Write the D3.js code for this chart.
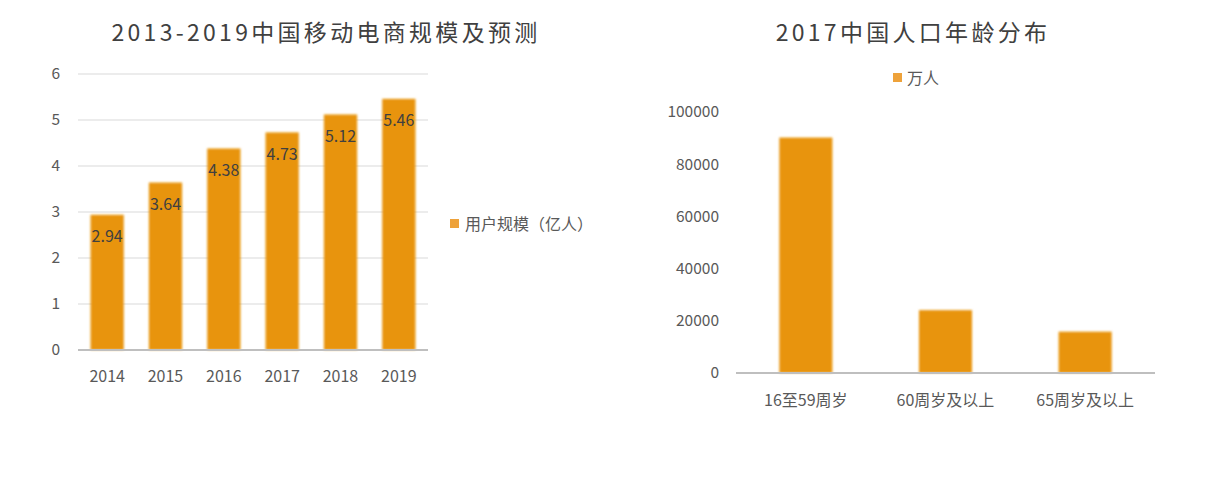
<!DOCTYPE html>
<html><head><meta charset="utf-8">
<script src="https://cdn.jsdelivr.net/npm/d3@7"></script>
<style>
body{margin:0;background:#fff;}
svg{display:block;font-family:"Noto Sans CJK SC","Noto Sans",sans-serif;}
</style></head>
<body>
<svg id="c" width="1212" height="482"></svg>
<script>
// Left chart data
const years = ["2014","2015","2016","2017","2018","2019"];
const users = [2.94,3.64,4.38,4.73,5.12,5.46];
const leftTicks = [0,1,2,3,4,5,6];
const leftTitle = "2013-2019中国移动电商规模及预测";
const leftLegend = "用户规模（亿人）";
// Right chart data
const ageGroups = ["16至59周岁","60周岁及以上","65周岁及以上"];
const population = [90199,24090,15831];
const rightTicks = [0,20000,40000,60000,80000,100000];
const rightTitle = "2017中国人口年龄分布";
const rightLegend = "万人";

const barColor = "#e8940a";
const svg = d3.select("#c");
const defs = svg.append("defs");
const f = defs.append("filter").attr("id","soft").attr("x","-10%").attr("y","-10%").attr("width","120%").attr("height","120%");
f.append("feGaussianBlur").attr("stdDeviation",0.9);

// ---- Left chart ----
{
  const x = d3.scaleBand().domain(years).range([78,428]).paddingInner(0.43).paddingOuter(0.215);
  const y = d3.scaleLinear().domain([0,6]).range([350,74]);
  const g = svg.append("g");
  g.selectAll("line.grid").data(leftTicks.slice(1)).join("line")
    .attr("x1",78).attr("x2",428).attr("y1",d=>y(d)).attr("y2",d=>y(d))
    .attr("stroke","#d9d9d9").attr("stroke-width",1);
  g.selectAll("text.yt").data(leftTicks).join("text")
    .attr("x",60).attr("y",d=>y(d)).attr("dy","0.35em").attr("text-anchor","end")
    .attr("font-size",15.5).attr("fill","#595959").text(d=>d);
  g.selectAll("rect").data(users).join("rect")
    .attr("x",(d,i)=>x(years[i])).attr("width",x.bandwidth())
    .attr("y",d=>y(d)).attr("height",d=>y(0)-y(d))
    .attr("fill",barColor).attr("filter","url(#soft)");
  g.append("line").attr("x1",78).attr("x2",428).attr("y1",350).attr("y2",350)
    .attr("stroke","#bfbfbf").attr("stroke-width",2);
  g.selectAll("text.xt").data(years).join("text")
    .attr("x",d=>x(d)+x.bandwidth()/2).attr("y",376).attr("dy","0.35em").attr("text-anchor","middle")
    .attr("font-size",16).attr("fill","#595959").text(d=>d);
  g.selectAll("text.lbl").data(users).join("text")
    .attr("x",(d,i)=>x(years[i])+x.bandwidth()/2).attr("y",d=>y(d)+22).attr("dy","0.35em")
    .attr("text-anchor","middle").attr("font-size",16).attr("fill","#404040").text(d=>d.toFixed(2));
  g.append("text").attr("x",326).attr("y",33).attr("dy","0.35em").attr("text-anchor","middle")
    .attr("font-size",23).attr("letter-spacing",3.3).attr("fill","#404040").text(leftTitle);
  g.append("rect").attr("x",450).attr("y",219).attr("width",9).attr("height",9).attr("fill","#eea23a");
  g.append("text").attr("x",465).attr("y",224).attr("dy","0.35em").attr("font-size",16)
    .attr("fill","#595959").text(leftLegend);
}

// ---- Right chart ----
{
  const x = d3.scaleBand().domain(ageGroups).range([736,1155]).paddingInner(0.62).paddingOuter(0.31);
  const y = d3.scaleLinear().domain([0,100000]).range([373,112]);
  const g = svg.append("g");
  g.selectAll("text.yt").data(rightTicks).join("text")
    .attr("x",719).attr("y",d=>y(d)).attr("dy","0.35em").attr("text-anchor","end")
    .attr("font-size",15.5).attr("fill","#595959").text(d=>d);
  g.selectAll("rect").data(population).join("rect")
    .attr("x",(d,i)=>x(ageGroups[i])).attr("width",x.bandwidth())
    .attr("y",d=>y(d)).attr("height",d=>y(0)-y(d))
    .attr("fill",barColor).attr("filter","url(#soft)");
  g.append("line").attr("x1",736).attr("x2",1155).attr("y1",373).attr("y2",373)
    .attr("stroke","#bfbfbf").attr("stroke-width",2);
  g.selectAll("text.xt").data(ageGroups).join("text")
    .attr("x",d=>x(d)+x.bandwidth()/2).attr("y",400).attr("dy","0.35em").attr("text-anchor","middle")
    .attr("font-size",16).attr("fill","#595959").text(d=>d);
  g.append("text").attr("x",913).attr("y",33).attr("dy","0.35em").attr("text-anchor","middle")
    .attr("font-size",23).attr("letter-spacing",3.3).attr("fill","#404040").text(rightTitle);
  g.append("rect").attr("x",893).attr("y",73).attr("width",9).attr("height",9).attr("fill","#eea23a");
  g.append("text").attr("x",907).attr("y",78).attr("dy","0.35em").attr("font-size",16)
    .attr("fill","#595959").text(rightLegend);
}
</script>
</body></html>
